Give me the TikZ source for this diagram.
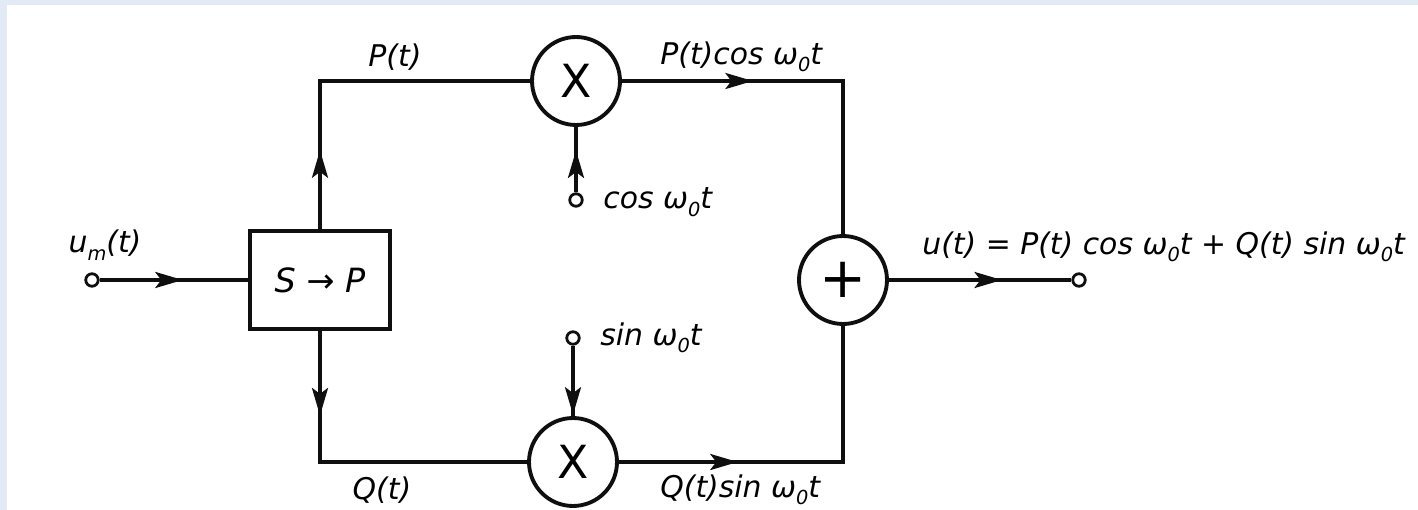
\documentclass[tikz,border=0pt]{standalone}
\usepackage{fontspec}
\setmainfont{DejaVu Sans}
\usetikzlibrary{positioning,arrows.meta,decorations.markings}
\definecolor{marco}{RGB}{226,235,245}
\definecolor{trazo}{RGB}{15,15,15}
\newcommand{\indice}[1]{\raisebox{-0.45ex}{\fontsize{11}{11}\selectfont #1}}
\newcommand{\wo}{ω\indice{0}}

\begin{document}
\begin{tikzpicture}[x=0.02cm, y=-0.02cm,
  linea/.style={draw=trazo, line width=2pt},
  flecha/.style={decoration={markings, mark=at position #1 with
    {\arrow{Stealth[length=0.55cm, width=0.32cm, inset=0.12cm]}}},
    postaction={decorate}},
  mult/.style={circle, draw=trazo, line width=2.2pt, minimum size=1.76cm,
    inner sep=0pt, font=\fontsize{26}{26}\selectfont},
  bloque/.style={draw=trazo, line width=2.2pt, minimum width=2.8cm,
    minimum height=1.96cm, font=\fontsize{19}{22}\selectfont\itshape},
  borne/.style={circle, draw=trazo, fill=white, line width=1.6pt,
    minimum size=0.25cm, inner sep=0pt},
  etiq/.style={font=\fontsize{17}{20}\selectfont\itshape, inner sep=0pt}
]
% Fondo
\fill[marco] (0,0) rectangle (1418,510);
\fill[white] (7,5) rectangle (1418,510);
\useasboundingbox (0,0) rectangle (1418,510);
% Bloques
\node[borne] (ent) at (92,280) {};
\node[bloque] (conv) at (320,280) {S → P};
\node[mult] (mulP) at (576,81) {X};
\node[mult] (mulQ) at (573,462) {X};
\node[mult, font=\fontsize{32}{32}\selectfont] (suma) at (843,280) {+};
\node[borne] (cosin) at (576,200) {};
\node[borne] (sinin) at (573,338) {};
\node[borne] (sal) at (1079,280) {};
% Conexiones
\draw[linea, flecha=0.56] (ent) -- (conv);
\draw[linea, flecha=0.22] (conv.north) |- (mulP.west);
\draw[linea, flecha=0.64] (cosin) -- (mulP);
\draw[linea, flecha=0.35] (mulP.east) -| (suma.north);
\draw[linea, flecha=0.25] (conv.south) |- (mulQ.west);
\draw[linea, flecha=0.98] (sinin) -- (mulQ);
\draw[linea, flecha=0.33] (mulQ.east) -| (suma.south);
\draw[linea, flecha=0.62] (suma) -- (sal);
% Etiquetas
\node[etiq] (lum) at (105,245) {u\indice{m}(t)};
\node[etiq] (lP) at (395,57) {P(t)};
\node[etiq, anchor=west] (lPc) at (660,57) {P(t)cos \wo t};
\node[etiq, anchor=west] (lcos) at (603,202) {cos \wo t};
\node[etiq, anchor=west] (lsin) at (600,338) {sin \wo t};
\node[etiq] (lQ) at (382,490) {Q(t)};
\node[etiq, anchor=west] (lQs) at (660,490) {Q(t)sin \wo t};
\node[etiq, anchor=west] (lu) at (922,247)
  {u(t) = P(t) cos \wo t + Q(t) sin \wo t};
\end{tikzpicture}
\end{document}
